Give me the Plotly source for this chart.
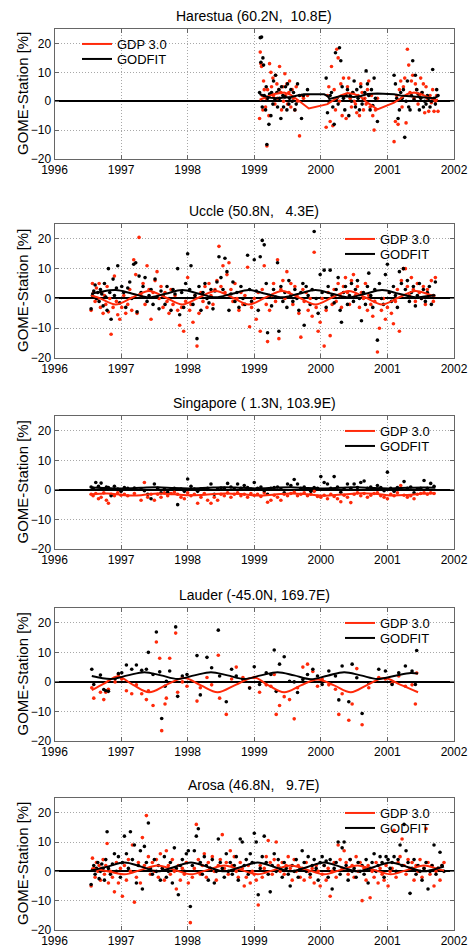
import plotly.graph_objects as go

# ---------------- DATA ----------------
years = [1996, 1997, 1998, 1999, 2000, 2001, 2002]
yticks = [-20, -10, 0, 10, 20]
series_names = ["GDP 3.0", "GODFIT"]
titles = [
    "Harestua (60.2N,\u00a0\u00a010.8E)",
    "Uccle (50.8N,\u00a0\u00a0\u00a04.3E)",
    "Singapore (\u00a01.3N, 103.9E)",
    "Lauder (-45.0N, 169.7E)",
    "Arosa (46.8N,\u00a0\u00a0\u00a09.7E)",
]

# Harestua
har_t = [1999.08, 1999.09, 1999.10, 1999.11, 1999.12, 1999.13, 1999.14, 1999.15, 1999.17, 1999.18,
         1999.19, 1999.20, 1999.22, 1999.23, 1999.25, 1999.26, 1999.28, 1999.29, 1999.31, 1999.32,
         1999.34, 1999.35, 1999.37, 1999.38, 1999.40, 1999.41, 1999.43, 1999.44, 1999.46, 1999.47,
         1999.49, 1999.50, 1999.52, 1999.53, 1999.55, 1999.57, 1999.59, 1999.61, 1999.63, 1999.65,
         1999.68, 1999.71, 1999.74, 1999.80,
         2000.08, 2000.10, 2000.12, 2000.14, 2000.16, 2000.18, 2000.20, 2000.22, 2000.24, 2000.26,
         2000.28, 2000.30, 2000.32, 2000.34, 2000.36, 2000.38, 2000.40, 2000.42, 2000.44, 2000.46,
         2000.48, 2000.50, 2000.52, 2000.54, 2000.56, 2000.58, 2000.60, 2000.62, 2000.64, 2000.66,
         2000.68, 2000.70, 2000.72, 2000.74, 2000.76, 2000.78, 2000.80, 2000.82, 2000.85,
         2001.10, 2001.12, 2001.14, 2001.16, 2001.18, 2001.20, 2001.22, 2001.24, 2001.26, 2001.28,
         2001.30, 2001.32, 2001.34, 2001.36, 2001.38, 2001.40, 2001.42, 2001.44, 2001.46, 2001.48,
         2001.50, 2001.52, 2001.54, 2001.56, 2001.58, 2001.60, 2001.62, 2001.64, 2001.66, 2001.68,
         2001.70, 2001.72, 2001.74, 2001.76]
har_godfit = [3, 22, 13.5, 22.2, -2, 15, 12.5, 2, -3, 5,
              -15, 1, -8, 2.5, -5, 3, -1, 7, 0.5, 9,
              3, -2, 4, 1, -6, 5, 2, -2, 1.5, 5,
              -3, 6, -1, 1, 4, 0, 3, -3, -1, 6,
              2, -6, 2, 4,
              8, -4, 0, 2, 3, -2, -8, 16.8, 1, -1,
              18.5, 14, 5, 1, -3, 2, 4, -5, 2, 0,
              3, 7, -2, 4, 1, -3, 5, -1, 0.5, 3,
              10.5, 6, 2, -3, 4, -1.5, 8, 1, -7,
              9, 6, 1, -6, -3, 3, 1, 4, -12.5, 0,
              7, -2, -3, 2, 14, 0.5, 9, 4, 2.5, -3,
              1, 3, -2, 0, -1, 2, 1, -2, 0, 11,
              1, -1, 4, 2]
har_gdp = [-6, 17, 13, 12, 2, -3, 7, 4, -2, 1,
           -15.5, 4, -5, 13, 10, 5, 8, 2, -1, 9,
           6, 1, 4, 12, 3, -3, 5, 0, 9.5, 2,
           6, -1, 3, 7, -2, 4, 1, -3, 5, 0,
           -12, 2, 1, 2,
           -9, 2, 5, -7, 12, -8.5, 4, -3, 18, 15,
           0, 6, -5, 8, 2, -6, 5, 8, 1, -2,
           3, 0, -1, -4, 2, -5, 6, 3, -3, 1,
           -1, 4, 7, -2, 2, -5, -10, -3, 1,
           -14, -7, 2, -8, 4, 7, -2, 5, 8, -7.5,
           18, 12.5, 3, 7, 9, 1, 6, 4, -1, 2,
           8, 3, 6, -4, 5, 1, -3.5, 2, -0.5, 4,
           -3.5, 0, 2, -3.5]
har_godfit_ct = [1999.08, 1999.15, 1999.25, 1999.35, 1999.45, 1999.55, 1999.65, 1999.75, 2000.05, 2000.10,
                 2000.13, 2000.20, 2000.30, 2000.40, 2000.50, 2000.60, 2000.70, 2000.85, 2001.10, 2001.20,
                 2001.30, 2001.40, 2001.50, 2001.60, 2001.70, 2001.76]
har_godfit_cv = [2.5, 1.8, 1.2, 1.0, 1.3, 1.5, 2.0, 2.4, 2.4, 1.8,
                 0.8, 1.2, 1.8, 1.6, 1.5, 1.8, 2.5, 2.7, 2.4, 2.0,
                 1.8, 1.6, 1.4, 1.2, 1.0, 1.8]
har_gdp_ct = [1999.08, 1999.20, 1999.30, 1999.45, 1999.55, 1999.65, 1999.75, 1999.82, 2000.10, 2000.20,
              2000.30, 2000.40, 2000.50, 2000.60, 2000.70, 2000.85, 2001.10, 2001.20, 2001.30, 2001.40,
              2001.50, 2001.60, 2001.70, 2001.76]
har_gdp_cv = [0.5, 1.5, 2.5, 3.0, 2.2, 0.5, -1.2, -2.5, -1.0, 0.5,
              2.0, 2.8, 2.5, 1.5, -0.5, -2.8, -0.5, 1.0, 2.5, 3.0,
              2.5, 1.5, 0.5, 0.5]

# Uccle
ucc_t = [1996.55, 1996.57, 1996.59, 1996.61, 1996.63, 1996.65, 1996.67, 1996.69, 1996.71, 1996.73,
         1996.75, 1996.77, 1996.79, 1996.81, 1996.83, 1996.85, 1996.88, 1996.90, 1996.93, 1996.95,
         1996.98, 1997.01, 1997.04, 1997.07, 1997.10, 1997.13, 1997.16, 1997.19, 1997.22, 1997.24,
         1997.27, 1997.30, 1997.33, 1997.36, 1997.39, 1997.42, 1997.45, 1997.48, 1997.51, 1997.54,
         1997.57, 1997.60, 1997.63, 1997.66, 1997.69, 1997.72, 1997.75, 1997.78, 1997.81, 1997.85,
         1997.88, 1997.91, 1997.94, 1997.97, 1998.00, 1998.03, 1998.05, 1998.08, 1998.11, 1998.14,
         1998.17, 1998.20, 1998.23, 1998.26, 1998.29, 1998.32, 1998.35, 1998.38, 1998.41, 1998.44,
         1998.47, 1998.50, 1998.53, 1998.56, 1998.59, 1998.62, 1998.65, 1998.68, 1998.71, 1998.74,
         1998.77, 1998.80, 1998.83, 1998.86, 1998.90, 1998.93, 1998.96, 1999.00, 1999.03, 1999.06,
         1999.09, 1999.12, 1999.15, 1999.18, 1999.20, 1999.23, 1999.26, 1999.29, 1999.32, 1999.35,
         1999.37, 1999.40, 1999.43, 1999.46, 1999.49, 1999.52, 1999.55, 1999.58, 1999.61, 1999.64,
         1999.67, 1999.70, 1999.73, 1999.75, 1999.78, 1999.81, 1999.84, 1999.87, 1999.90, 1999.93,
         1999.96, 1999.99, 2000.02, 2000.05, 2000.08, 2000.11, 2000.14, 2000.17, 2000.20, 2000.23,
         2000.26, 2000.29, 2000.31, 2000.34, 2000.37, 2000.40, 2000.43, 2000.46, 2000.49, 2000.52,
         2000.55, 2000.58, 2000.61, 2000.64, 2000.67, 2000.70, 2000.72, 2000.75, 2000.78, 2000.81,
         2000.85, 2000.88, 2000.91, 2000.94, 2000.97, 2001.00, 2001.03, 2001.06, 2001.09, 2001.12,
         2001.15, 2001.18, 2001.21, 2001.24, 2001.27, 2001.30, 2001.33, 2001.36, 2001.39, 2001.42,
         2001.45, 2001.48, 2001.51, 2001.54, 2001.57, 2001.60, 2001.63, 2001.66, 2001.69, 2001.72]
ucc_godfit = [-3.5, 1, 2.5, 4.5, 0, 2, -1, 3, 1.5, -2.5,
              5, 0.5, -4, 10, 2, -7, 6.5, 1, 3.5, 11,
              -1.5, 4, 2, -3, 3.5, 5.5, 0, 11.5, 12, -4.5,
              7.5, 2, 4, 7, -1, 1, 3, -2, 6.5, 0.5,
              -3.5, 2.5, 1, -2, 4, 0, -4, 3, 1.5, 10,
              -5.5, 2, -3, 5, 15, 3, 11, -2, 1, -13.5,
              4, -4, 2, 5, 0, -1.5, 3, -3.5, 2.5, 5.5,
              14, 7, 3, 13.5, 9, -4, 1.5, 5.5, -1, 2,
              -3, 4, 0, -2, 14.5, 3, -1, 13, 2.5, -4,
              14, 19.5, 18, 5, -11.5, 1, -2.5, 3, 0.5, 12,
              -11, 4, -1, 2, -3, 6, 1, -1, 3, 0,
              -4, 2, 5, -9, 4, 1, -2, 3, 22.5, 0,
              -5, 8, 2, 9.5, -3, 4, 9.5, 1, -1.5, 3,
              7, -4, -8, 2, 4, -2, 1, 5, -1, 3,
              6, 0, -7.5, 2, -2, 4, 8.5, 1, -3, 3,
              -14, 5, 0, -2, 8, 11.5, 2, -1, 4, 1,
              -3, 9, 5, 10, 3, 6, -1, 2, 4, -2.5,
              1, 5, 0, 3, -1, 2, 4, -2, 1, 5.5]
ucc_gdp = [-4, 5, 2, -1, 3.5, 0, 5, -3, 2, -5,
           1, -2, 4, -4.5, 0, -12, -3, 7.5, -1, -5.5,
           -7, -3, 1, -5, -2, 3, -4, 13, 8, -5,
           20.5, 1, 5, -2, 11, 3, -7, 2, 6, 9,
           0, 4, -3, 2, -1, -5, 3, -2, 1, -4,
           -9, -3, -11, -1, 7, -4, -2, -8, 1, -16,
           -5, 2, -1, 4, -3, 5, 1, -2, 3, 6,
           17.5, 4, 11, 2, 8, 12, 3, -1, 5, 0,
           -4, 2, -2, 1, 10.5, -9.5, -3, 0, -7, 2,
           -11, 3, 11, -2, -14.5, -4, 1, 5, -1, 13,
           -13.5, 3, 6, 0, 9, 2, 5, -2, 4, 1,
           -5, -13, 3, -1, 2, -4, 0, -6, 15.5, -3,
           -11, -8, 0, -16, -4, 2, -12.5, -2, 3, -1,
           5, 1, -3, 4, 7, 2, -2, 6, 8, 1,
           4, -3, 2, 0, 5, -4, 1, -2, -6, -1,
           -18, -10, -4, 0, -7, -3, 2, -5, -8.5, -1,
           3, -11, 6, 10, 10, 4, 1, 7, 3, -1,
           5, 2, 0, 4, -2, 3, 1, 6, -1, 7]
ucc_ct = [1996.55, 1996.67, 1996.92, 1997.17, 1997.42, 1997.67, 1997.92, 1998.17, 1998.42, 1998.67,
          1998.92, 1999.17, 1999.42, 1999.67, 1999.92, 2000.17, 2000.42, 2000.67, 2000.92, 2001.17,
          2001.42, 2001.67, 2001.72]
ucc_godfit_cv = [1.6, 2.1, 2.8, 1.6, 0.4, 1.6, 2.8, 1.6, 0.4, 1.6,
                 2.8, 1.6, 0.4, 1.6, 2.8, 1.6, 0.4, 1.6, 2.8, 1.6,
                 0.4, 1.0, 1.1]
ucc_gdp_cv = [1.0, 0.2, -2.0, 0.3, 2.5, 0.3, -2.0, 0.3, 2.5, 0.3,
              -2.0, 0.3, 2.5, 0.3, -2.0, 0.3, 2.5, 0.3, -2.0, 0.3,
              2.5, 1.0, 0.8]

# Singapore
sin_t = [1996.55, 1996.58, 1996.62, 1996.66, 1996.70, 1996.74, 1996.78, 1996.81, 1996.85, 1996.90,
         1996.95, 1997.00, 1997.05, 1997.10, 1997.20, 1997.30, 1997.35, 1997.40, 1997.45, 1997.50,
         1997.55, 1997.60, 1997.65, 1997.70, 1997.75, 1997.80, 1997.85, 1997.90, 1997.95, 1998.00,
         1998.05, 1998.10, 1998.15, 1998.20, 1998.25, 1998.30, 1998.35, 1998.40, 1998.45, 1998.50,
         1998.55, 1998.60, 1998.65, 1998.70, 1998.75, 1998.80, 1998.85, 1998.90, 1998.95, 1999.00,
         1999.05, 1999.10, 1999.15, 1999.20, 1999.25, 1999.30, 1999.35, 1999.40, 1999.45, 1999.50,
         1999.55, 1999.60, 1999.65, 1999.70, 1999.75, 1999.80, 1999.85, 1999.90, 1999.95, 2000.00,
         2000.05, 2000.10, 2000.15, 2000.20, 2000.25, 2000.30, 2000.35, 2000.40, 2000.45, 2000.50,
         2000.55, 2000.60, 2000.65, 2000.70, 2000.75, 2000.80, 2000.85, 2000.90, 2000.95, 2001.00,
         2001.05, 2001.10, 2001.15, 2001.20, 2001.25, 2001.30, 2001.35, 2001.40, 2001.45, 2001.50,
         2001.55, 2001.60, 2001.65, 2001.70]
sin_godfit = [1, 0.5, 2.5, 1.2, 2.3, 0.3, 1, 0.8, -2, 1.2,
              0.3, -0.5, 0.8, 0.5, 0.6, 0.3, -0.3, -1.5, -3, 2,
              0.5, -1, 0.3, -0.8, 0.2, 0.5, -5, 0.3, -0.5, 3.7,
              1.2, 0.3, -0.5, 0.4, 0.2, 0.5, 2, -1.5, 0.3, 0.6,
              0.5, 2.2, 1, 0.3, 2, 0.5, 1.5, 0.8, 0.3, 2.5,
              0.5, 1, -0.3, -1.5, 0.5, 0.8, 1, 0.3, -1, 2,
              1.5, 3.5, 2, 0.5, 1, 0.3, -0.5, 0.8, 0.5, 4.5,
              2.5, 2, 0.5, 4.5, 1, -0.8, 0.3, 2, 0.5, 2,
              0.8, 2.5, 3, 0.5, 1, 0.3, 1.5, 0.8, -0.3, 6,
              0.5, -0.5, 0.8, 0.3, 2.8, 0.5, 1, -1, 0.3, 0.5,
              3.2, 0.5, 2.2, 1.2]
sin_gdp = [-1.5, -2, -1.2, -3, -2.5, -1, -3.5, -4.5, -1.5, -2,
           -1, -1.8, -1.5, -2, -1.2, -3.5, 2.5, -2.5, -1.5, -3.5,
           -1.5, -2.5, -1, -2, -1.2, -0.8, -1.5, -2.5, -3, -1,
           -2, -1.5, -4.5, -2.5, -1.2, -3.5, -4.5, -2.5, -3.5, -1.5,
           -2, -1, -2.5, -1.5, -1, -2, -1.5, -2.5, -1.2, -1.8,
           -1.5, -2.2, -1, -4.2, -3.5, -1.8, -2.5, -3.5, -1.5, -2,
           -1.2, -0.8, -2, -1.5, -1, -2, -1.5, -0.5, -2.2, -2.5,
           -1.8, -3, -1.5, -2.2, -3, -4, -1.8, -2.5, -4.3, -1.5,
           -1, -2, -1.2, -2.5, -1.8, -1.2, -1, -2, -2.5, -3,
           -1.5, -2, -1, 1.5, -1.8, -2.5, -2, -3, -1.5, -1.2,
           -1, -1.5, -1, -1.2]
sin_ct = [1996.55, 1996.80, 1997.05, 1997.30, 1997.55, 1997.80, 1998.05, 1998.30, 1998.55, 1998.80,
          1999.05, 1999.30, 1999.55, 1999.80, 2000.05, 2000.30, 2000.55, 2000.80, 2001.05, 2001.30,
          2001.55, 2001.72]
sin_godfit_cv = [0.8, 0.6, 0.5, 0.7, 0.9, 0.6, 0.5, 0.7, 0.9, 0.7,
                 0.5, 0.7, 0.9, 0.6, 0.5, 0.7, 0.9, 0.6, 0.5, 0.7,
                 0.8, 0.7]
sin_gdp_cv = [-1.5, -1.2, -1.8, -1.8, -1.2, -1.5, -1.8, -1.6, -1.2, -1.4,
              -1.9, -1.6, -1.2, -1.5, -2.0, -1.6, -1.2, -1.3, -1.9, -1.7,
              -1.2, -1.1]

# Lauder
lau_t = [1996.56, 1996.59, 1996.69, 1996.74, 1996.77, 1996.81, 1996.91, 1996.96, 1997.01, 1997.08,
         1997.16, 1997.23, 1997.31, 1997.38, 1997.41, 1997.48, 1997.53, 1997.58, 1997.61, 1997.66,
         1997.68, 1997.73, 1997.82, 1997.85, 1997.92, 1997.99, 1998.14, 1998.19, 1998.29, 1998.36,
         1998.46, 1998.48, 1998.58, 1998.66, 1998.73, 1998.83, 1998.93, 1999.00, 1999.08, 1999.18,
         1999.25, 1999.30, 1999.33, 1999.38, 1999.45, 1999.53, 1999.60, 1999.65, 1999.73, 1999.80,
         1999.88, 1999.95, 2000.02, 2000.12, 2000.22, 2000.27, 2000.32, 2000.42, 2000.47, 2000.54,
         2000.62, 2000.72, 2000.87, 2000.97, 2001.07, 2001.17, 2001.27, 2001.37, 2001.42, 2001.44]
lau_godfit = [4.3, -0.9, 2.3, -2.6, -3, -3.2, 1.1, 2.8, 3.1, 5.7,
              4.3, 5.7, 3.9, 4.3, 10, 2.5, 16.9, 3.4, -12.4, -1.5,
              0.2, 3.7, 18.6, -4.9, 2, 2.5, 8.9, -4.4, 8.3, 4.8,
              17.5, 2, -6.7, 4.3, 2, 0.8, -2.1, 5.1, -0.9, 3.1,
              2.5, 10.8, -3.2, 6, 8.5, 0.2, 0, -3.6, 0.8, 2.5,
              4.3, 2, -0.9, 3.7, 2, -6.1, 5.4, -6.7, 6, 1.4,
              -10.7, -0.3, 4.3, 3.7, -0.9, 3.1, 5.4, 3.7, -0.9, 10.6]
lau_gdp = [-2, -5.5, -3.5, -6, -3.5, -2.5, 0, 2.5, 1, -3,
           -4, -1, -4, -6, -3, -8, 13.5, 8, -16.5, -7.5,
           -5.5, 8, 16.5, -3.5, 0, -1.5, -6.5, -2, 1.5, -1,
           9, -5.5, -11, 1, 5, 1.5, -2, 1.5, -3.5, -1,
           -1.5, 2.5, -11, -8, -5, -6, -12.5, -2, 5, 6,
           3.5, -1.5, 1, -1, -2.5, -11, -4, -13, -7.5, 4.5,
           -14.5, -2, 1.5, 1, -0.5, 2, -1.5, -1, -7.5, 3]
lau_godfit_ct = [1996.56, 1996.85, 1997.10, 1997.35, 1997.60, 1997.85, 1998.10, 1998.35, 1998.60, 1998.85,
                 1999.10, 1999.35, 1999.60, 1999.85, 2000.10, 2000.35, 2000.60, 2000.85, 2001.10, 2001.35,
                 2001.46]
lau_godfit_cv = [2.0, 1.0, 2.2, 3.3, 2.2, 1.0, 2.2, 3.3, 2.2, 1.0,
                 2.2, 3.3, 2.2, 0.9, 2.1, 3.3, 2.2, 1.0, 2.0, 3.0,
                 2.8]
lau_gdp_ct = [1996.56, 1996.75, 1996.95, 1997.18, 1997.42, 1997.68, 1997.95, 1998.20, 1998.45, 1998.72,
              1999.00, 1999.20, 1999.45, 1999.70, 1999.95, 2000.20, 2000.45, 2000.70, 2000.95, 2001.20,
              2001.46]
lau_gdp_cv = [-2.8, -0.5, 1.8, -1.0, -3.5, -1.0, 1.3, -1.2, -3.5, -1.0,
              1.5, -1.0, -3.5, -1.2, 0.8, -1.2, -3.5, -1.0, 1.3, -1.0,
              -3.5]

# Arosa
aro_t = [1996.55, 1996.57, 1996.59, 1996.61, 1996.63, 1996.65, 1996.67, 1996.69, 1996.71, 1996.73,
         1996.75, 1996.77, 1996.79, 1996.81, 1996.84, 1996.87, 1996.90, 1996.93, 1996.96, 1996.99,
         1997.02, 1997.05, 1997.08, 1997.11, 1997.14, 1997.17, 1997.20, 1997.23, 1997.26, 1997.29,
         1997.32, 1997.35, 1997.38, 1997.41, 1997.44, 1997.47, 1997.50, 1997.53, 1997.56, 1997.59,
         1997.62, 1997.65, 1997.68, 1997.71, 1997.74, 1997.77, 1997.80, 1997.83, 1997.86, 1997.89,
         1997.92, 1997.95, 1997.98, 1998.01, 1998.04, 1998.07, 1998.10, 1998.13, 1998.16, 1998.19,
         1998.22, 1998.25, 1998.28, 1998.31, 1998.34, 1998.37, 1998.40, 1998.43, 1998.46, 1998.49,
         1998.52, 1998.55, 1998.58, 1998.61, 1998.64, 1998.67, 1998.70, 1998.73, 1998.76, 1998.79,
         1998.82, 1998.85, 1998.88, 1998.91, 1998.94, 1998.97, 1999.00, 1999.03, 1999.06, 1999.09,
         1999.12, 1999.15, 1999.18, 1999.21, 1999.24, 1999.27, 1999.30, 1999.33, 1999.36, 1999.39,
         1999.42, 1999.45, 1999.48, 1999.51, 1999.54, 1999.57, 1999.60, 1999.63, 1999.66, 1999.69,
         1999.72, 1999.75, 1999.78, 1999.81, 1999.84, 1999.87, 1999.90, 1999.93, 1999.96, 1999.99,
         2000.02, 2000.05, 2000.08, 2000.11, 2000.14, 2000.17, 2000.20, 2000.23, 2000.26, 2000.29,
         2000.32, 2000.35, 2000.38, 2000.41, 2000.44, 2000.47, 2000.50, 2000.53, 2000.56, 2000.59,
         2000.62, 2000.65, 2000.68, 2000.71, 2000.74, 2000.77, 2000.80, 2000.83, 2000.86, 2000.89,
         2000.92, 2000.95, 2000.98, 2001.01, 2001.04, 2001.07, 2001.10, 2001.13, 2001.16, 2001.19,
         2001.22, 2001.25, 2001.28, 2001.31, 2001.34, 2001.37, 2001.40, 2001.43, 2001.46, 2001.49,
         2001.52, 2001.55, 2001.58, 2001.61, 2001.64, 2001.67, 2001.70, 2001.73, 2001.76, 2001.79,
         2001.82, 2001.85]
aro_godfit = [-4.5, 0.5, 2, -1, 1, 3, -2.5, 0, 2.5, 1,
              -3, 4, 13.5, 1, -1, 2.5, 6, 0, 5, -2,
              3, 12, 6, 1, 13.5, 4, 9, -4, 2, 7,
              -6, 8.5, 3, 16.5, 1, -1, 4, 0, 2, -3,
              1, 5, -2, 0, 3, -4, 8, 1, -8, 2,
              4, 0, 6, 7, -12, 2, 7, 12, 14.5, 3,
              -1, 5, 2, -3, 1, 4, -4, 0, 11, 3,
              1, -2, 6, 0, 3, -1, 2, 5, -3, 11,
              10, 2, 4, -1, 6, 3, 13, 10, -8, 1,
              5, 12, 3, -1, -7, 2, 6, 0, 4, 1,
              -2, 3, 1, -1, -5, 2, 0, 4, -2, 1,
              7, 3, 0, 5, -1, 2, 4, 1, -3, 3,
              5, 2, 3.5, -2, 4, -6, 1, 3, 10, -1,
              8, 10, 2, -3, 4, 0, 1, -2, 3, 0,
              2, -1, 4, -4, 1, 3, 6, 0, 2, 5,
              3, -2, 5, 4, 1, 3, 5, 0, 4, 9,
              2, 16, 7, 3, -7.5, 1, 4, -1, 2, 0,
              -3, 1, 3, -6, 0, 2, 9, -1, 1, 6.5,
              2, 0]
aro_gdp = [-5, 4.5, 1, -2, 3, 0, 2, -3, 1, 4,
           -1, 2, 9.5, -4, 0, -2, -7, 3, -4, 1,
           -8.5, 2, -3, 4, 0, 9, -10.5, -2, 3, -4,
           11.5, 2, 19, 5, -1, 3, 0, 4, -2, 6,
           1, -3, 7, 2, -1, 4, 0, -6, 2, -3,
           1, -1, 3, -4, -17.5, -2, 1, 16, 4, -1,
           2, 6, -2, 3, 1, 5, 0, -3, 2, 4,
           12.5, 1, 3, -1, 7, 2, 5, 0, -2, 3,
           1, -5, -2, 2, -4, 0, -1, -3, -11.5, 2,
           -2, 1, 5, 10.5, 3, -1, 4, 10, 2, 0,
           3, -1, 2, 5, 1, -3, 4, 0, 2, -2,
           1, -3, 3, 0, -2, 1, -4, 2, 0, -5,
           -1, 2, -3, 1, -8.5, 0, 3, -2, 9, 4,
           1, 7, 3, -1, 4, 2, -2, 5, 0, 3,
           -10, 1, -3, 2, -9, 0, -2, 3, -4, 1,
           -1, -3, 2, -5, 0, 1, 14, -2, 3, 5,
           11, 2, -1, 4, 1, 3, -3, 2, 0, 4,
           -2, 1, 14.5, 3, -1, 2, -5, 0, 1, -3,
           2, 3]
aro_ct = [1996.55, 1996.80, 1997.05, 1997.30, 1997.55, 1997.80, 1998.05, 1998.30, 1998.55, 1998.80,
          1999.05, 1999.30, 1999.55, 1999.80, 2000.05, 2000.30, 2000.55, 2000.80, 2001.05, 2001.30,
          2001.55, 2001.80, 2001.85]
aro_godfit_cv = [0.3, 1.6, 3.0, 1.6, 0.0, 1.5, 3.0, 1.5, 0.0, 1.5,
                 3.0, 1.5, 0.0, 1.5, 3.0, 1.5, 0.0, 1.5, 3.0, 1.5,
                 0.0, 1.3, 1.6]
aro_gdp_cv = [1.0, 0.0, -1.0, 0.5, 2.0, 0.5, -1.0, 0.5, 2.0, 0.5,
              -1.0, 0.5, 2.0, 0.5, -1.0, 0.5, 2.0, 0.5, -1.0, 0.5,
              2.0, 0.5, 0.3]

# ---------------- STYLE / LAYOUT ----------------
W, H = 472, 948
FONT = "Arial, 'Liberation Sans', Helvetica, sans-serif"
RED = "#ff2a0a"
BLACK = "#000000"
FRAME = "#666666"
GRID = "#a8a8a8"

X0_PX, X1_PX = 54.5, 454.0
TOP_PX = [29, 224, 416, 608, 798]
BOT_PX = [159, 358, 549, 741, 930]

panels = [
    dict(t=har_t, gdp=har_gdp, god=har_godfit, gct=har_gdp_ct, gcv=har_gdp_cv,
         fct=har_godfit_ct, fcv=har_godfit_cv, shape="linear", leg_left=True),
    dict(t=ucc_t, gdp=ucc_gdp, god=ucc_godfit, gct=ucc_ct, gcv=ucc_gdp_cv,
         fct=ucc_ct, fcv=ucc_godfit_cv, shape="spline", leg_left=False),
    dict(t=sin_t, gdp=sin_gdp, god=sin_godfit, gct=sin_ct, gcv=sin_gdp_cv,
         fct=sin_ct, fcv=sin_godfit_cv, shape="spline", leg_left=False),
    dict(t=lau_t, gdp=lau_gdp, god=lau_godfit, gct=lau_gdp_ct, gcv=lau_gdp_cv,
         fct=lau_godfit_ct, fcv=lau_godfit_cv, shape="spline", leg_left=False),
    dict(t=aro_t, gdp=aro_gdp, god=aro_godfit, gct=aro_ct, gcv=aro_gdp_cv,
         fct=aro_ct, fcv=aro_godfit_cv, shape="spline", leg_left=False),
]

fig = go.Figure()
layout = dict(
    width=W, height=H,
    margin=dict(l=0, r=0, t=0, b=0),
    paper_bgcolor="white", plot_bgcolor="white",
    font=dict(family=FONT, size=12, color="black"),
    showlegend=True,
    annotations=[],
)


def legend_name(k):
    return "legend" if k == 1 else "legend" + str(k)


for i, p in enumerate(panels):
    n = i + 1
    sfx = "" if n == 1 else str(n)
    xa, ya = "x" + sfx, "y" + sfx
    leg_a = legend_name(2 * i + 1)
    leg_b = legend_name(2 * i + 2)

    fig.add_trace(go.Scatter(x=p["t"], y=p["gdp"], mode="markers", xaxis=xa, yaxis=ya,
                             marker=dict(color=RED, size=3.6), showlegend=False, hoverinfo="skip"))
    fig.add_trace(go.Scatter(x=p["t"], y=p["god"], mode="markers", xaxis=xa, yaxis=ya,
                             marker=dict(color=BLACK, size=3.6), showlegend=False, hoverinfo="skip"))
    fig.add_trace(go.Scatter(x=p["gct"], y=p["gcv"], mode="lines", xaxis=xa, yaxis=ya,
                             line=dict(color=RED, width=2, shape=p["shape"]),
                             name=series_names[0], legend=leg_a))
    fig.add_trace(go.Scatter(x=p["fct"], y=p["fcv"], mode="lines", xaxis=xa, yaxis=ya,
                             line=dict(color=BLACK, width=2, shape=p["shape"]),
                             name=series_names[1], legend=leg_b))

    top, bot = TOP_PX[i], BOT_PX[i]
    dom = [1 - bot / H, 1 - top / H]
    axis_common = dict(showline=True, linecolor=FRAME, linewidth=1, mirror="ticks",
                       ticks="inside", ticklen=4, tickcolor=FRAME,
                       showgrid=True, gridcolor=GRID, griddash="1px,2px", gridwidth=1,
                       tickfont=dict(size=12, family=FONT, color="black"),
                       automargin=False, fixedrange=True)
    layout["xaxis" + sfx] = dict(axis_common, domain=[X0_PX / W, X1_PX / W], range=[1996, 2002],
                                 tickvals=years, ticktext=[str(y) for y in years],
                                 anchor=ya, zeroline=False)
    layout["yaxis" + sfx] = dict(axis_common, domain=dom, range=[-20, 25],
                                 tickvals=yticks, anchor=xa,
                                 zeroline=True, zerolinecolor="black", zerolinewidth=2)

    leg_x_px = 77 if p["leg_left"] else 340
    for k, leg in enumerate([leg_a, leg_b]):
        layout[leg] = dict(x=leg_x_px / W, xanchor="left", y=1 - (top + 0 + 15 * k) / H, yanchor="top",
                           bgcolor="rgba(0,0,0,0)", borderwidth=0, itemwidth=30,
                           font=dict(size=13, family=FONT, color="black"),
                           tracegroupgap=0)

    layout["annotations"].append(dict(
        text=titles[i], xref="paper", yref="paper",
        x=(X0_PX + X1_PX) / 2 / W, y=1 - (top - 13) / H,
        xanchor="center", yanchor="middle", showarrow=False,
        font=dict(size=14, family=FONT, color="black")))
    layout["annotations"].append(dict(
        text="GOME-Station [%]", xref="paper", yref="paper",
        x=22 / W, y=1 - (top + bot) / 2 / H, textangle=-90,
        xanchor="center", yanchor="middle", showarrow=False,
        font=dict(size=15, family=FONT, color="black")))

fig.update_layout(**layout)
fig.write_html("out.html")
